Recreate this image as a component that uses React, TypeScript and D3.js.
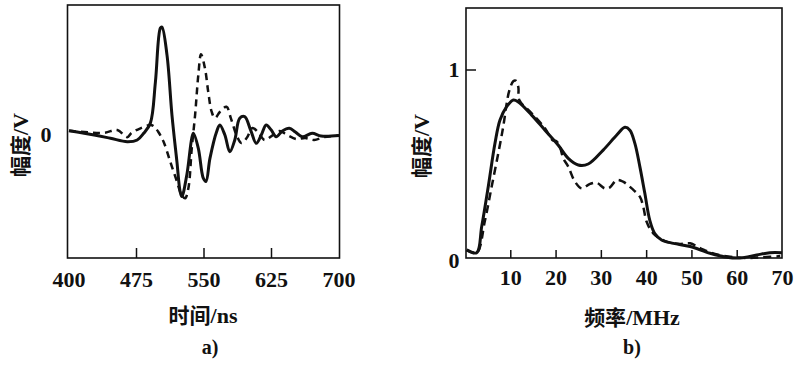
import React, { useEffect, useRef } from 'react';
import * as d3 from 'd3';

// panel a) time-domain signals (time in ns, amplitude in relative units)
const timeTicks = [400, 475, 550, 625, 700];
const solidTime = [
  [400, 0.04], [428, 0.0], [446, -0.03], [464.7, -0.062], [475.8, -0.046], [483, 0.016],
  [490.4, 0.11], [496, 0.49], [501.5, 0.99], [503.3, 1.0], [508.9, 0.74], [514.4, 0.185],
  [519.9, -0.247], [523.5, -0.525], [525.4, -0.57], [530.9, -0.37], [536.4, -0.03],
  [538.2, 0.016], [543.7, -0.123], [549.2, -0.4], [552.2, -0.43], [556.6, -0.216],
  [564, 0.03], [567.6, 0.093], [573.2, 0.0], [578.7, -0.155], [584.2, -0.046],
  [589.7, 0.155], [595.2, 0.17], [601.8, 0.046], [608.1, -0.077], [613.6, 0.0],
  [619.1, 0.093], [624.7, 0.046], [630.2, -0.016], [637.1, 0.037], [644.8, 0.062],
  [651.5, 0.028], [659.2, -0.016], [670.2, 0.016], [680.1, -0.01], [700, -0.005],
];
const dashedTime = [
  [400, 0.04], [438.6, 0.02], [453.7, 0.046], [464.7, -0.02], [469.5, 0.02],
  [479.4, 0.062], [490.4, 0.093], [494, 0.083], [499.3, 0.028], [505.1, -0.062],
  [512.5, -0.247], [519.9, -0.43], [524.6, -0.546], [529, -0.586], [532.7, -0.49],
  [536.4, -0.123], [540.1, 0.185], [543.7, 0.556], [546.7, 0.747], [551.1, 0.617],
  [554.7, 0.4], [558.5, 0.216], [562.1, 0.157], [567.6, 0.213], [575, 0.262],
  [579.8, 0.157], [586.1, 0.0], [591.6, -0.074], [597.4, -0.028], [604, 0.065],
  [610.7, 0.019], [617.3, -0.046], [625, -0.01], [633.8, 0.037], [642.6, 0.0],
  [652.6, -0.037], [662.5, -0.028], [672.4, -0.046], [683.4, -0.019], [700, -0.005],
];

// panel b) spectra (frequency in MHz, amplitude in V)
const freqTicks = [10, 20, 30, 40, 50, 60, 70];
const solidFreq = [
  [0.26, 0.043], [2.47, 0.028], [3.58, 0.167], [5.03, 0.38], [6.51, 0.61], [7.62, 0.734],
  [9.09, 0.805], [10.55, 0.84], [11.66, 0.83], [14.61, 0.76], [17.55, 0.68], [20.49, 0.6],
  [22.69, 0.53], [24.9, 0.495], [27.1, 0.5], [30.4, 0.574], [33.4, 0.654], [35.2, 0.695],
  [36.3, 0.68], [37.4, 0.61], [38.5, 0.486], [39.6, 0.344], [40.7, 0.2], [41.8, 0.13],
  [43.3, 0.096], [45.9, 0.078], [49.6, 0.061], [54, 0.025], [57.7, 0.004], [60.6, 0.0],
  [64.3, 0.016], [67.2, 0.028], [69.9, 0.028],
];
const dashedFreq = [
  [0.26, 0.043], [2.47, 0.028], [4.3, 0.2], [5.78, 0.38], [7.24, 0.557], [8.34, 0.7],
  [9.09, 0.82], [9.67, 0.89], [10.55, 0.94], [11.08, 0.943], [11.66, 0.91], [11.88, 0.84],
  [14.61, 0.77], [17.55, 0.69], [19.16, 0.628], [20.13, 0.62], [20.86, 0.59], [21.6, 0.53],
  [22.69, 0.486], [24.17, 0.406], [25.65, 0.37], [27.5, 0.394], [28.96, 0.4], [30.8, 0.37],
  [31.9, 0.376], [33.4, 0.415], [34.8, 0.406], [36.7, 0.37], [38.5, 0.326], [39.25, 0.273],
  [40.0, 0.193], [41.5, 0.13], [44.4, 0.087], [47.4, 0.075], [49.6, 0.078], [51.8, 0.053],
  [55.1, 0.021], [62.1, 0.0], [65.7, 0.004], [69.5, 0.01],
];

const serif = '"Liberation Serif", "DejaVu Serif", serif';
const cjk = '"Noto Sans CJK SC", sans-serif';
const ink = '#111';

const App = () => {
  const svgRef = useRef(null);

  useEffect(() => {
    const svg = d3.select(svgRef.current);
    svg.selectAll('*').remove();

    // ---------- panel a ----------
    const xa = d3.scaleLinear().domain([400, 700]).range([69, 339]);
    const ya = d3.scaleLinear().domain([-1.139, 1.204]).range([258, 5]);

    svg.append('rect')
      .attr('x', 67.5).attr('y', 5).attr('width', 272).attr('height', 253)
      .attr('fill', 'none').attr('stroke', ink).attr('stroke-width', 1.6);

    // inner ticks on the bottom
    svg.append('g').selectAll('line')
      .data(timeTicks.slice(1, -1))
      .enter().append('line')
      .attr('x1', d => xa(d)).attr('x2', d => xa(d))
      .attr('y1', 258).attr('y2', 248)
      .attr('stroke', ink).attr('stroke-width', 1.5);

    svg.append('g').selectAll('text')
      .data(timeTicks)
      .enter().append('text')
      .text(d => d)
      .attr('x', d => xa(d)).attr('y', 287)
      .attr('text-anchor', 'middle')
      .style('font-family', serif).style('font-size', '22px').style('font-weight', 'bold')
      .attr('fill', ink);

    svg.append('text').text('0')
      .attr('x', 46).attr('y', ya(0) + 7)
      .attr('text-anchor', 'middle')
      .style('font-family', serif).style('font-size', '22px').style('font-weight', 'bold')
      .attr('fill', ink);

    const lineA = d3.line()
      .x(d => xa(d[0]))
      .y(d => ya(d[1]))
      .curve(d3.curveCatmullRom.alpha(0.5));

    svg.append('path').attr('d', lineA(dashedTime))
      .attr('fill', 'none').attr('stroke', ink).attr('stroke-width', 2.5)
      .attr('stroke-dasharray', '7,5');
    svg.append('path').attr('d', lineA(solidTime))
      .attr('fill', 'none').attr('stroke', ink).attr('stroke-width', 3);

    // ---------- panel b ----------
    const xb = d3.scaleLinear().domain([0, 70]).range([465.5, 782.5]);
    const yb = d3.scaleLinear().domain([0, 1]).range([258, 70]);

    svg.append('rect')
      .attr('x', 466).attr('y', 8).attr('width', 316).attr('height', 250)
      .attr('fill', 'none').attr('stroke', ink).attr('stroke-width', 1.6);

    svg.append('g').selectAll('line')
      .data(freqTicks.slice(0, -1))
      .enter().append('line')
      .attr('x1', d => xb(d)).attr('x2', d => xb(d))
      .attr('y1', 258).attr('y2', 250)
      .attr('stroke', ink).attr('stroke-width', 1.5);

    svg.append('line')
      .attr('x1', 466).attr('x2', 476)
      .attr('y1', yb(1)).attr('y2', yb(1))
      .attr('stroke', ink).attr('stroke-width', 1.5);

    svg.append('g').selectAll('text')
      .data(freqTicks)
      .enter().append('text')
      .text(d => d)
      .attr('x', d => xb(d)).attr('y', 285)
      .attr('text-anchor', 'middle')
      .style('font-family', serif).style('font-size', '22px').style('font-weight', 'bold')
      .attr('fill', ink);

    svg.append('g').selectAll('text')
      .data([0, 1])
      .enter().append('text')
      .text(d => d)
      .attr('x', 454).attr('y', d => yb(d) + (d === 0 ? 10 : 7))
      .attr('text-anchor', 'middle')
      .style('font-family', serif).style('font-size', '22px').style('font-weight', 'bold')
      .attr('fill', ink);

    const lineB = d3.line()
      .x(d => xb(d[0]))
      .y(d => yb(d[1]))
      .curve(d3.curveCatmullRom.alpha(0.5));

    svg.append('path').attr('d', lineB(dashedFreq))
      .attr('fill', 'none').attr('stroke', ink).attr('stroke-width', 2.5)
      .attr('stroke-dasharray', '8,5');
    svg.append('path').attr('d', lineB(solidFreq))
      .attr('fill', 'none').attr('stroke', ink).attr('stroke-width', 3);

    // ---------- axis titles ----------
    const addTitle = (x, y, zh, en, rotate) => {
      const t = svg.append('text')
        .attr('text-anchor', 'middle')
        .attr('fill', ink)
        .attr('transform', `translate(${x},${y})${rotate ? ' rotate(-90)' : ''}`);
      t.append('tspan').text(zh)
        .style('font-family', cjk).style('font-size', '21px').style('font-weight', 'bold');
      t.append('tspan').text(en)
        .style('font-family', serif).style('font-size', '22px').style('font-weight', 'bold');
    };
    addTitle(28, 145, '幅度', '/V', true);
    addTitle(203, 323, '时间', '/ns', false);
    addTitle(429, 146, '幅度', '/V', true);
    addTitle(632, 325, '频率', '/MHz', false);

    svg.append('g').selectAll('text')
      .data([['a)', 210], ['b)', 632]])
      .enter().append('text')
      .text(d => d[0])
      .attr('x', d => d[1]).attr('y', 354)
      .attr('text-anchor', 'middle')
      .style('font-family', serif).style('font-size', '20px').style('font-weight', 'bold')
      .attr('fill', ink);
  }, []);

  return (
    <svg
      ref={svgRef}
      width={800}
      height={366}
      style={{ position: 'absolute', left: 0, top: 0, background: '#fff' }}
    ></svg>
  );
};

export default App;
